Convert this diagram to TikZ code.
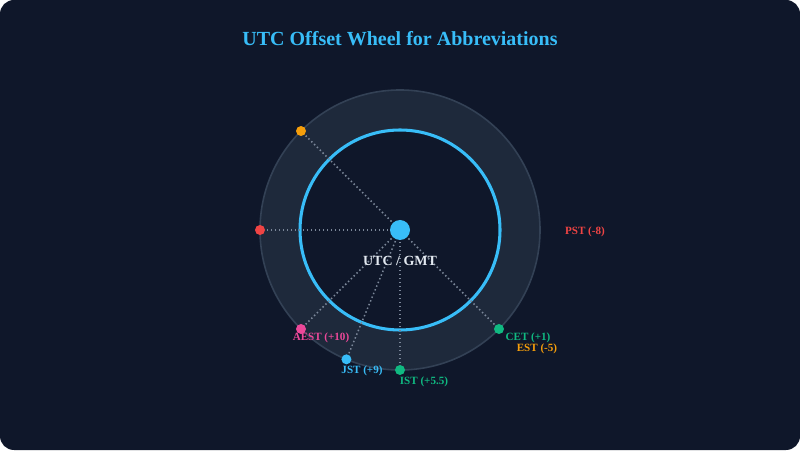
\documentclass[tikz,border=0pt]{standalone}
\usepackage{fontspec}
\setmainfont{Liberation Serif}
\usetikzlibrary{positioning}
\definecolor{bgnavy}{HTML}{0F172A}
\definecolor{bandfill}{HTML}{1E293B}
\definecolor{bandline}{HTML}{334155}
\definecolor{spokegray}{HTML}{7B8799}
\definecolor{tzblue}{HTML}{38BDF8}
\definecolor{tzorange}{HTML}{F59E0B}
\definecolor{tzred}{HTML}{EF4444}
\definecolor{tzpink}{HTML}{EC4899}
\definecolor{tzgreen}{HTML}{10B981}
\definecolor{hubtext}{HTML}{E2E8F0}
\tikzset{
  tzdot/.style={circle, inner sep=0pt, minimum size=7.5pt},
  tzlabel/.style={font=\bfseries\fontsize{8.3}{9}\selectfont, inner sep=0pt},
  spoke/.style={spokegray, line width=1.1pt, dash pattern=on 1.1pt off 1.9pt}
}
\begin{document}
\begin{tikzpicture}[x=0.75pt,y=0.75pt]
	\useasboundingbox (0,0) rectangle (800,450);
	\fill [white] (0,0) rectangle (800,450);
	\fill [bgnavy, rounded corners=10.5pt] (0,0) rectangle (800,450);
	\node [font=\bfseries\fontsize{15}{18}\selectfont, text=tzblue] (title) at (400,411)
		{UTC Offset Wheel for Abbreviations};
		\begin{scope}[shift={(400,220)}]
	\draw [bandline, fill=bandfill, line width=1.2pt] (0,0) circle (140);
	\draw [tzblue, fill=bgnavy, line width=2.3pt] (0,0) circle (100);
	\coordinate (c) at (0,0);
	\foreach \ang/\nm/\col in {135/est/tzorange, 180/pst/tzred, 225/aest/tzpink,
		247.5/jst/tzblue, 270/ist/tzgreen, 315/cet/tzgreen}
	{\draw [spoke] (c) -- (\ang:140);
	 \node [tzdot, fill=\col] (\nm) at (\ang:140) {};}
	\node [circle, fill=tzblue, inner sep=0pt, minimum size=15pt] (hub) at (c) {};
		\end{scope}
	\node [tzlabel, text=hubtext, font=\bfseries\fontsize{10.5}{12}\selectfont, below=11.5pt of hub]
		(utc) {UTC / GMT};
	\node [tzlabel, text=tzred] (pstlab) at (585,218) {PST (-8)};
	\node [tzlabel, text=tzorange] (estlab) at (537,101) {EST (-5)};
	\node [tzlabel, text=tzgreen] (cetlab) at (528,112) {CET (+1)};
	\node [tzlabel, text=tzgreen] (istlab) at (424,68) {IST (+5.5)};
	\node [tzlabel, text=tzblue] (jstlab) at (362,79) {JST (+9)};
	\node [tzlabel, text=tzpink] (aestlab) at (321,112) {AEST (+10)};
\end{tikzpicture}
\end{document}
